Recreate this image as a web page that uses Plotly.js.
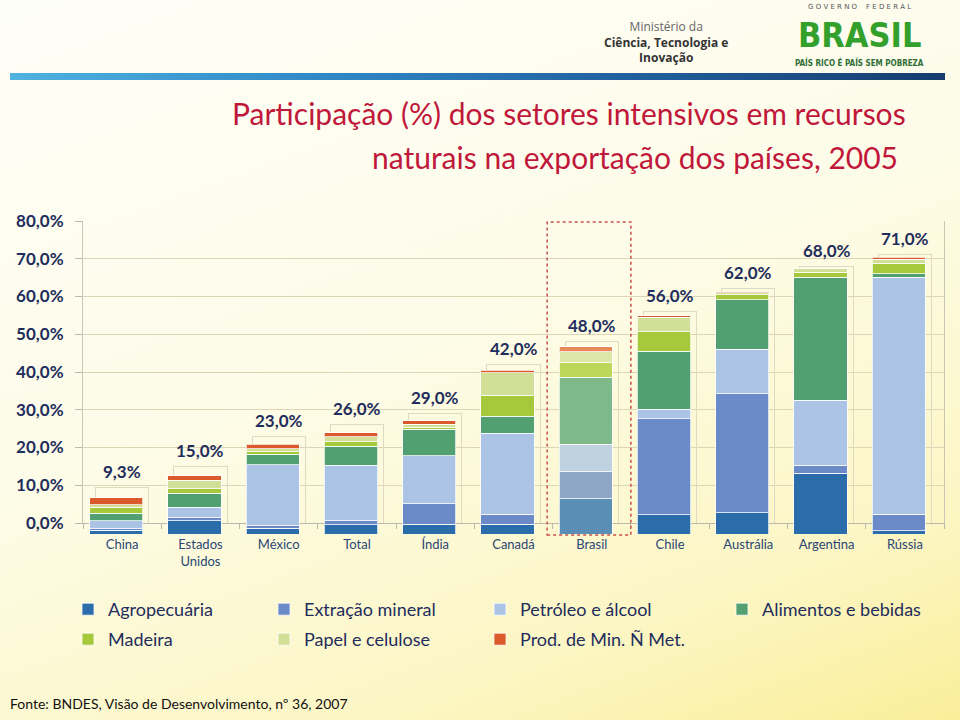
<!DOCTYPE html>
<html>
<head>
<meta charset="utf-8">
<script src="https://cdn.plot.ly/plotly-3.0.1.min.js"></script>
<style>
  html, body { margin:0; padding:0; }
  body { width:960px; height:720px; overflow:hidden;
         background: linear-gradient(160deg, #fefef8 0%, #fdfce9 45%, #fcf6c4 80%, #faee9a 100%); position:relative; }
  #bar { position:absolute; left:10px; top:73px; width:935px; height:7px;
         background: linear-gradient(90deg, #4fb2e0 0%, #2f86c4 35%, #1f5c98 70%, #173d6e 100%); z-index:0; }
  #chart { position:absolute; left:0; top:0; width:960px; height:720px; z-index:1; }
</style>
</head>
<body>
<div id="bar"></div>
<div id="chart"></div>
<script>
// ---- data ----
const categories = ['China','Estados<br>Unidos','México','Total','Índia','Canadá','Brasil','Chile','Austrália','Argentina','Rússia'];
const totals     = [9.3, 15.0, 23.0, 26.0, 29.0, 42.0, 48.0, 56.0, 62.0, 68.0, 71.0];
const agro       = [0.9, 3.4, 1.5, 2.4, 2.5, 2.5, 9.0, 5.0, 5.4, 15.6, 0.8];
const extracao   = [0.5, 0.8, 0.6, 1.0, 5.2, 2.6, 6.9, 24.6, 30.6, 2.0, 4.3];
const petroleo   = [2.0, 2.7, 15.6, 14.2, 12.4, 20.7, 7.1, 2.4, 11.4, 16.7, 60.7];
const alimentos  = [1.9, 3.6, 2.8, 4.9, 6.7, 4.4, 17.2, 14.8, 12.7, 31.5, 0.9];
const madeira    = [1.6, 1.1, 0.6, 1.2, 0.6, 5.4, 3.7, 5.0, 1.2, 1.3, 2.7];
const papel      = [0.6, 2.2, 0.8, 1.3, 0.7, 5.7, 2.8, 3.8, 0.6, 0.9, 1.0];
const prodMin    = [1.8, 1.2, 1.1, 1.0, 0.9, 0.7, 1.3, 0.4, 0.1, 0.0, 0.6];
const seriesNames = ['Agropecuária','Extração mineral','Petróleo e álcool','Alimentos e bebidas','Madeira','Papel e celulose','Prod. de Min. Ñ Met.'];
const yTickVals = [0,10,20,30,40,50,60,70,80];

// ---- styles ----
const baseColors   = ['#2b6cab','#6a8bc7','#abc4e5','#52a072','#a5c93a','#d2df96','#db5a2b'];
const brasilColors = ['#5a8eb5','#8ea7c7','#c0d2df','#7db98b','#bdd75b','#dde7a8','#e8895a'];
const seriesValues = [agro, extracao, petroleo, alimentos, madeira, papel, prodMin];

// plot area in pixels (includes room for the offset bar layer)
const W = 960, H = 720, L = 77, R = 944, T = 221, B = 535;
const pw = R - L, ph = B - T;
const pxX = x => (x - L) / pw;
const pxY = y => (B - y) / ph;

const navy = '#1f2d5c';
const fontFam = 'Lato, "Open Sans", sans-serif';
const fmtPct = v => v.toFixed(1).replace('.', ',') + '%';

// legend slots (pixel positions of each legend entry)
const legendX = [68, 264, 480, 722, 68, 264, 480];
const legendY = [591, 591, 591, 591, 621, 621, 621];

const traces = [];
// ghost outline boxes at true totals (main axes)
traces.push({
  type:'bar', x:categories, y:totals, xaxis:'x', yaxis:'y',
  marker:{color:'rgba(0,0,0,0)', line:{color:'#e0dbc0', width:1}},
  showlegend:false, hoverinfo:'skip'
});
seriesValues.forEach((vals, k) => {
  traces.push({
    type:'bar', name:seriesNames[k], x:categories, y:vals, xaxis:'x2', yaxis:'y2',
    legend: k === 0 ? 'legend' : 'legend' + (k + 1),
    marker:{
      color: categories.map(c => c === 'Brasil' ? brasilColors[k] : baseColors[k]),
      line:{color:'rgba(255,255,255,0.75)', width:1}
    }
  });
});

const annotations = totals.map((t, i) => ({
  x: categories[i], y: t, xref:'x', yref:'y', yshift:16, showarrow:false,
  text: fmtPct(t),
  font:{family:fontFam, size:17, color:navy, weight:'bold'}
}));

function ann(text, x, y, opts) {
  return Object.assign({text, x:pxX(x), y:pxY(y), xref:'paper', yref:'paper', showarrow:false}, opts);
}
annotations.push(ann('Participação (%) dos setores intensivos em recursos', 908, 113,
  {xanchor:'right', yanchor:'middle', font:{family:fontFam, size:30, color:'#c0183a'}}));
annotations.push(ann('naturais na exportação dos países, 2005', 900, 157,
  {xanchor:'right', yanchor:'middle', font:{family:fontFam, size:30, color:'#c0183a'}}));
annotations.push(ann('Fonte: BNDES, Visão de Desenvolvimento, nº 36, 2007', 8, 703,
  {xanchor:'left', yanchor:'middle', font:{family:fontFam, size:14, color:'#111'}}));
// header logos
annotations.push(ann('<span style="color:#666">Ministério da</span><br><b>Ciência, Tecnologia e</b><br><b>Inovação</b>', 666, 42,
  {xanchor:'center', yanchor:'middle', align:'center', font:{family:'"Open Sans", sans-serif', size:12, color:'#333'}}));
annotations.push(ann('G O V E R N O &nbsp;&nbsp; F E D E R A L', 859, 7, {xanchor:'center', yanchor:'middle', font:{family:'"DejaVu Sans", sans-serif', size:7, color:'#555'}}));
annotations.push(ann('BRASIL', 859, 35, {xanchor:'center', yanchor:'middle', font:{family:'"DejaVu Sans Condensed", "DejaVu Sans", sans-serif', size:34, color:'#33a02c', weight:'bold'}}));
annotations.push(ann('PAÍS RICO É PAÍS SEM POBREZA', 859, 62, {xanchor:'center', yanchor:'middle', font:{family:'"DejaVu Sans Condensed", "DejaVu Sans", sans-serif', size:8, color:'#2f6e35', weight:'bold'}}));

const layout = {
  width:W, height:H,
  margin:{l:L, r:W-R, t:T, b:H-B, pad:0},
  paper_bgcolor:'rgba(0,0,0,0)', plot_bgcolor:'rgba(0,0,0,0)',
  separators:',.',
  barmode:'stack', bargap:0.32,
  font:{family:fontFam, color:navy},
  // main axes: grid, ticks, outline boxes
  xaxis:{
    domain:[pxX(83), 1], anchor:'y',
    type:'category', categoryarray:categories, range:[-0.5, categories.length-0.5],
    showline:true, linecolor:'#b9b9b0', linewidth:1,
    ticks:'outside', tickson:'boundaries', ticklen:5, tickcolor:'#b9b9b0',
    ticklabelstandoff:9,
    tickfont:{family:fontFam, size:13, color:'#2a4676'}, showgrid:false, fixedrange:true
  },
  yaxis:{
    domain:[pxY(523), 1], anchor:'x',
    range:[0,80], tickmode:'array', tickvals:yTickVals, ticktext:yTickVals.map(fmtPct),
    showline:true, mirror:true, linecolor:'#c9c6b4', linewidth:1,
    ticks:'outside', ticklen:7, tickcolor:'#b9b9b0', ticklabelstandoff:8,
    gridcolor:'#dcd5b6', zeroline:false,
    tickfont:{family:fontFam, size:17, color:navy, weight:'bold'}, fixedrange:true
  },
  // bar layer: drawn slightly offset and enlarged, as in the original slide
  xaxis2:{
    domain:[0, pxX(938)], anchor:'y2', visible:false,
    type:'category', categoryarray:categories, range:[-0.5, categories.length-0.5], fixedrange:true
  },
  yaxis2:{
    domain:[pxY(534), pxY(222)], anchor:'x2', visible:false, range:[0,80], fixedrange:true
  },
  showlegend:true,
  shapes:[{
    type:'rect', xref:'x', yref:'paper', x0:5.43, x1:6.50, y0:pxY(535), y1:pxY(222),
    line:{color:'#c8504a', width:1.5, dash:'dot'}, fillcolor:'rgba(0,0,0,0)', layer:'above'
  }],
  annotations
};

seriesNames.forEach((n, k) => {
  layout[k === 0 ? 'legend' : 'legend' + (k + 1)] = {
    x:pxX(legendX[k]), y:pxY(legendY[k]), xanchor:'left', yanchor:'top',
    orientation:'h', bgcolor:'rgba(0,0,0,0)',
    font:{family:fontFam, size:18, color:navy}
  };
});

Plotly.newPlot('chart', traces, layout, {displayModeBar:false, staticPlot:true});
</script>
</body>
</html>
